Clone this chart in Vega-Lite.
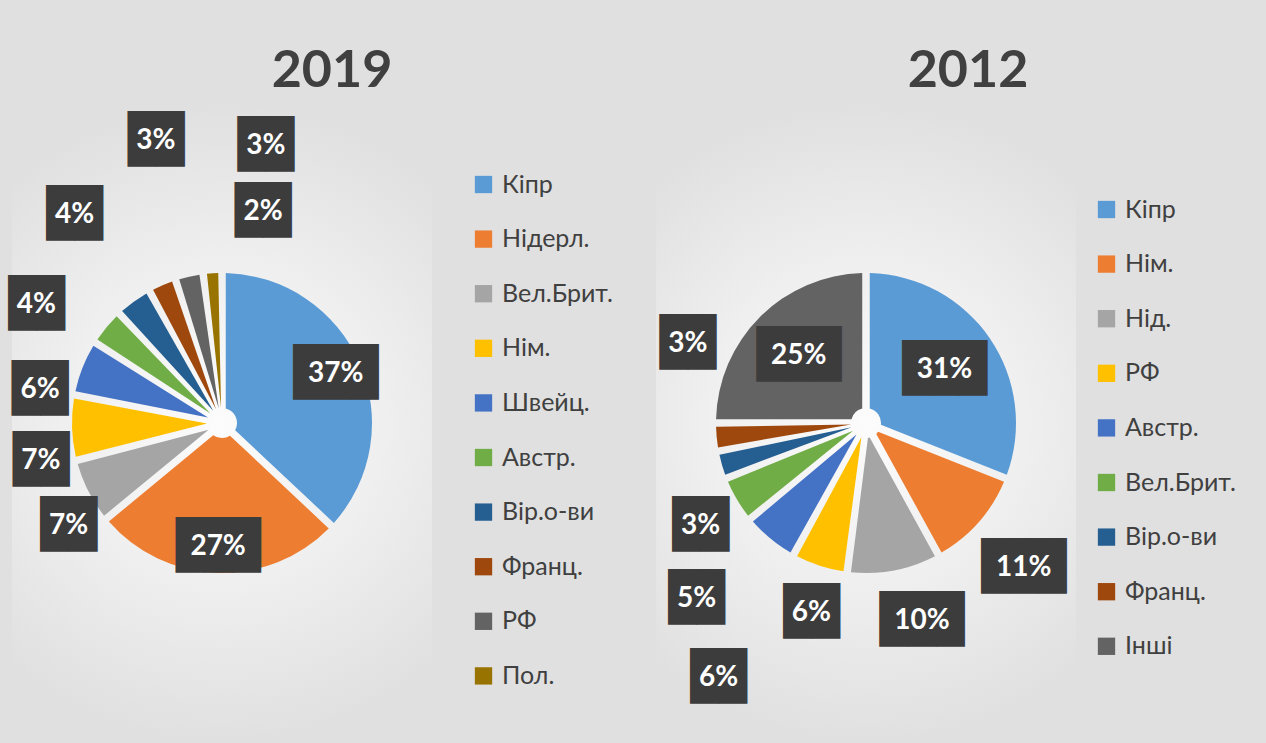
{
  "$schema": "https://vega.github.io/schema/vega-lite/v6.json",
  "background": "#e0e0e0",
  "padding": {"left": 8, "top": 45, "right": 36, "bottom": 0},
  "datasets": {
    "d2019": [
      {"c": "Кіпр", "v": 0.37, "n": 1},
      {"c": "Нідерл.", "v": 0.27, "n": 2},
      {"c": "Вел.Брит.", "v": 0.07, "n": 3},
      {"c": "Нім.", "v": 0.07, "n": 4},
      {"c": "Швейц.", "v": 0.06, "n": 5},
      {"c": "Австр.", "v": 0.04, "n": 6},
      {"c": "Вір.о-ви", "v": 0.04, "n": 7},
      {"c": "Франц.", "v": 0.03, "n": 8},
      {"c": "РФ", "v": 0.03, "n": 9},
      {"c": "Пол.", "v": 0.02, "n": 10}
    ],
    "d2012": [
      {"c": "Кіпр", "v": 0.31, "n": 1},
      {"c": "Нім.", "v": 0.11, "n": 2},
      {"c": "Нід.", "v": 0.10, "n": 3},
      {"c": "РФ", "v": 0.06, "n": 4},
      {"c": "Австр.", "v": 0.06, "n": 5},
      {"c": "Вел.Брит.", "v": 0.05, "n": 6},
      {"c": "Вір.о-ви", "v": 0.03, "n": 7},
      {"c": "Франц.", "v": 0.03, "n": 8},
      {"c": "Інші", "v": 0.25, "n": 9}
    ]
  },
  "config": {"view": {"stroke": null}, "font": "Lato"},
  "bounds": "flush",
  "spacing": 224,
  "resolve": {
    "scale": {"color": "independent", "theta": "independent", "radius": "independent"},
    "legend": {"color": "independent"}
  },
  "hconcat": [
    {
      "width": 420,
      "height": 642,
      "view": {
        "stroke": null,
        "fill": {"gradient": "radial", "x1": 0.5, "y1": 0.5, "r1": 0, "x2": 0.5, "y2": 0.5, "r2": 0.5,
          "stops": [{"offset": 0, "color": "#fcfcfc"}, {"offset": 0.5, "color": "#efefef"}, {"offset": 1, "color": "#e0e0e0"}]}
      },
      "title": {"text": "2019", "fontSize": 52, "fontWeight": "bold", "font": "Lato", "color": "#404040", "anchor": "middle", "dx": 110, "offset": 4},
      "data": {"name": "d2019"},
      "resolve": {"scale": {"theta": "independent", "radius": "independent"}},
      "layer": [
        {
          "mark": {"type": "arc", "outerRadius": 150, "innerRadius": 15, "padAngle": 0.05},
          "encoding": {
            "theta": {"field": "v", "type": "quantitative", "stack": true},
            "order": {"field": "n", "type": "quantitative"},
            "color": {
              "field": "c", "type": "nominal", "sort": null,
              "scale": {
                "domain": ["Кіпр", "Нідерл.", "Вел.Брит.", "Нім.", "Швейц.", "Австр.", "Вір.о-ви", "Франц.", "РФ", "Пол."],
                "range": ["#5b9bd5", "#ed7d31", "#a5a5a5", "#ffc000", "#4472c4", "#70ad47", "#255e91", "#9e480e", "#636363", "#997300"]
              },
              "legend": {
                "title": null, "orient": "none", "legendX": 459, "legendY": 70, "padding": 0,
                "symbolType": "square", "symbolSize": 300, "symbolStrokeWidth": 0,
                "labelFont": "Lato", "labelFontSize": 25, "labelColor": "#404040",
                "labelOffset": 6, "rowPadding": 28.6, "labelLimit": 300
              }
            }
          }
        },
        {
          "mark": {"type": "text", "radius": 124, "font": "DejaVu Sans Mono", "fontSize": 47, "color": "#3c3c3c", "align": "center", "baseline": "middle"},
          "encoding": {
            "theta": {"field": "v", "type": "quantitative", "stack": true},
            "order": {"field": "n", "type": "quantitative"},
            "text": {"condition": {"test": "datum.v >= 0.2", "value": "███"}, "value": ""}
          }
        },
        {
          "mark": {"type": "text", "radius": 124, "font": "Lato", "fontWeight": "bold", "fontSize": 28, "color": "#ffffff", "align": "center", "baseline": "middle"},
          "encoding": {
            "theta": {"field": "v", "type": "quantitative", "stack": true},
            "order": {"field": "n", "type": "quantitative"},
            "text": {"condition": {"test": "datum.v >= 0.2", "field": "v", "type": "quantitative", "format": ".0%"}, "value": ""}
          }
        },
        {
          "transform": [{"filter": "datum.v < 0.2"}],
          "mark": {"type": "text", "font": "DejaVu Sans Mono", "fontSize": 47, "color": "#3c3c3c", "align": "center", "baseline": "middle"},
          "encoding": {
            "theta": {"field": "n", "type": "quantitative", "stack": null, "scale": {"domain": [3, 9, 10], "range": [4.119, 6.4403, 6.4752]}},
            "radius": {"field": "n", "type": "quantitative", "scale": {"type": "linear", "domain": [5, 8, 9, 10], "range": [185, 290, 280, 215], "clamp": true, "zero": false}},
            "text": {"condition": {"test": "datum.v >= 0.095", "value": "███"}, "value": "██"}
          }
        },
        {
          "transform": [{"filter": "datum.v < 0.2"}],
          "mark": {"type": "text", "font": "Lato", "fontWeight": "bold", "fontSize": 28, "color": "#ffffff", "align": "center", "baseline": "middle"},
          "encoding": {
            "theta": {"field": "n", "type": "quantitative", "stack": null, "scale": {"domain": [3, 9, 10], "range": [4.119, 6.4403, 6.4752]}},
            "radius": {"field": "n", "type": "quantitative", "scale": {"type": "linear", "domain": [5, 8, 9, 10], "range": [185, 290, 280, 215], "clamp": true, "zero": false}},
            "text": {"field": "v", "type": "quantitative", "format": ".0%"}
          }
        }
      ]
    },
    {
      "width": 420,
      "height": 642,
      "view": {
        "stroke": null,
        "fill": {"gradient": "radial", "x1": 0.5, "y1": 0.5, "r1": 0, "x2": 0.5, "y2": 0.5, "r2": 0.5,
          "stops": [{"offset": 0, "color": "#fcfcfc"}, {"offset": 0.5, "color": "#efefef"}, {"offset": 1, "color": "#e0e0e0"}]}
      },
      "title": {"text": "2012", "fontSize": 52, "fontWeight": "bold", "font": "Lato", "color": "#404040", "anchor": "middle", "dx": 102, "offset": 4},
      "data": {"name": "d2012"},
      "resolve": {"scale": {"theta": "independent", "radius": "independent"}},
      "layer": [
        {
          "mark": {"type": "arc", "outerRadius": 150, "innerRadius": 15, "padAngle": 0.05},
          "encoding": {
            "theta": {"field": "v", "type": "quantitative", "stack": true},
            "order": {"field": "n", "type": "quantitative"},
            "color": {
              "field": "c", "type": "nominal", "sort": null,
              "scale": {
                "domain": ["Кіпр", "Нім.", "Нід.", "РФ", "Австр.", "Вел.Брит.", "Вір.о-ви", "Франц.", "Інші"],
                "range": ["#5b9bd5", "#ed7d31", "#a5a5a5", "#ffc000", "#4472c4", "#70ad47", "#255e91", "#9e480e", "#636363"]
              },
              "legend": {
                "title": null, "orient": "none", "legendX": 438, "legendY": 95, "padding": 0,
                "symbolType": "square", "symbolSize": 300, "symbolStrokeWidth": 0,
                "labelFont": "Lato", "labelFontSize": 25, "labelColor": "#404040",
                "labelOffset": 6, "rowPadding": 28.6, "labelLimit": 300
              }
            }
          }
        },
        {
          "mark": {"type": "text", "radius": 95, "font": "DejaVu Sans Mono", "fontSize": 47, "color": "#3c3c3c", "align": "center", "baseline": "middle"},
          "encoding": {
            "theta": {"field": "v", "type": "quantitative", "stack": true},
            "order": {"field": "n", "type": "quantitative"},
            "text": {"condition": {"test": "datum.v >= 0.2", "value": "███"}, "value": ""}
          }
        },
        {
          "mark": {"type": "text", "radius": 95, "font": "Lato", "fontWeight": "bold", "fontSize": 28, "color": "#ffffff", "align": "center", "baseline": "middle"},
          "encoding": {
            "theta": {"field": "v", "type": "quantitative", "stack": true},
            "order": {"field": "n", "type": "quantitative"},
            "text": {"condition": {"test": "datum.v >= 0.2", "field": "v", "type": "quantitative", "format": ".0%"}, "value": ""}
          }
        },
        {
          "transform": [{"filter": "datum.v < 0.2"}],
          "mark": {"type": "text", "font": "DejaVu Sans Mono", "fontSize": 47, "color": "#3c3c3c", "align": "center", "baseline": "middle"},
          "encoding": {
            "theta": {"field": "n", "type": "quantitative", "stack": null, "scale": {"domain": [2, 4, 7, 8], "range": [2.3126, 3.4208, 4.1539, 5.1313]}},
            "radius": {"field": "n", "type": "quantitative", "scale": {"type": "linear", "domain": [2, 4, 5, 6, 7], "range": [214, 198, 295, 244, 195], "clamp": true, "zero": false}},
            "text": {"condition": {"test": "datum.v >= 0.095", "value": "███"}, "value": "██"}
          }
        },
        {
          "transform": [{"filter": "datum.v < 0.2"}],
          "mark": {"type": "text", "font": "Lato", "fontWeight": "bold", "fontSize": 28, "color": "#ffffff", "align": "center", "baseline": "middle"},
          "encoding": {
            "theta": {"field": "n", "type": "quantitative", "stack": null, "scale": {"domain": [2, 4, 7, 8], "range": [2.3126, 3.4208, 4.1539, 5.1313]}},
            "radius": {"field": "n", "type": "quantitative", "scale": {"type": "linear", "domain": [2, 4, 5, 6, 7], "range": [214, 198, 295, 244, 195], "clamp": true, "zero": false}},
            "text": {"field": "v", "type": "quantitative", "format": ".0%"}
          }
        }
      ]
    }
  ]
}
